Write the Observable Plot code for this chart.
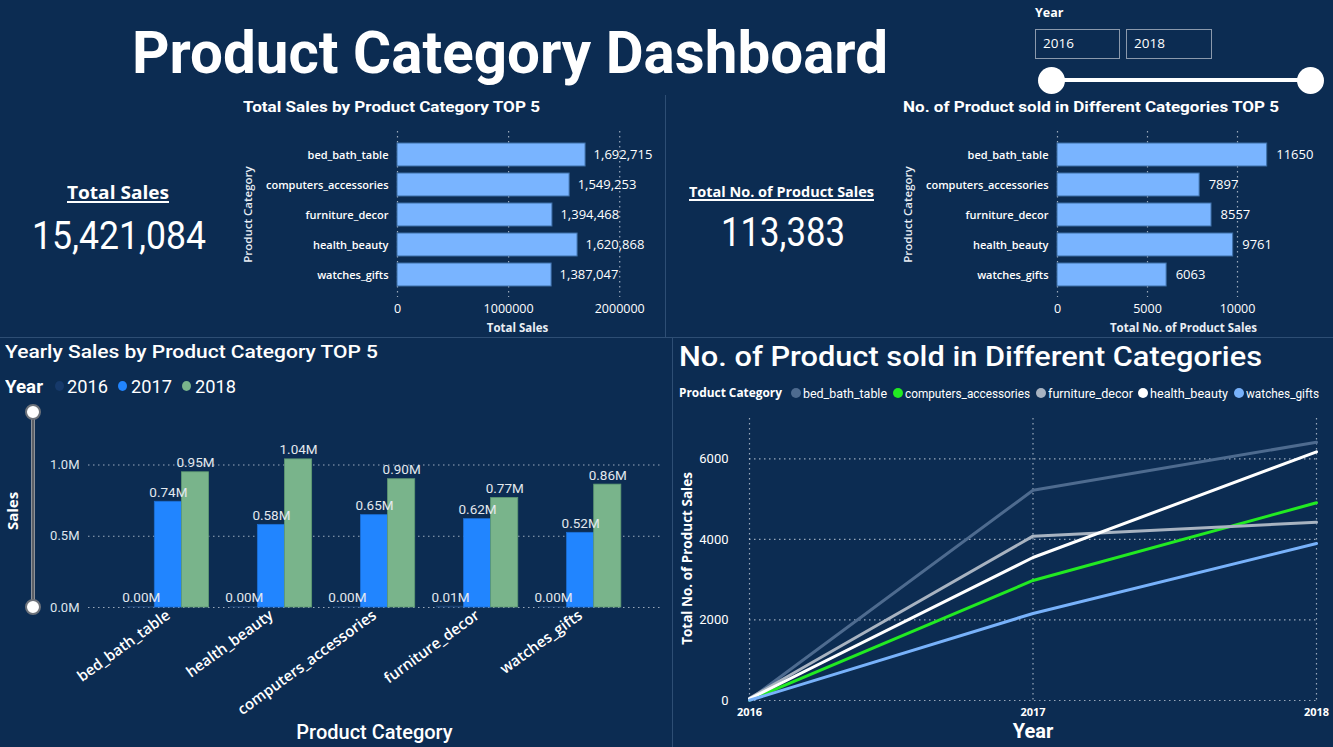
<!DOCTYPE html>
<html><head><meta charset="utf-8">
<script src="https://cdn.jsdelivr.net/npm/d3@7"></script>
<script src="https://cdn.jsdelivr.net/npm/@observablehq/plot@0.6"></script>
<style>
body{margin:0;background:#0c2c52;overflow:hidden}
#dash{position:relative;width:1333px;height:747px;background:#0c2c52;color:#fff;font-family:"Open Sans",sans-serif;overflow:hidden}
.abs{position:absolute;white-space:nowrap}
.chart{position:absolute}
.chart svg{overflow:visible}
</style></head><body><div id="dash"></div>
<script>
// ---------- DATA ----------
const categories = ["bed_bath_table","computers_accessories","furniture_decor","health_beauty","watches_gifts"];
const totalSales = [1692715, 1549253, 1394468, 1620868, 1387047];
const productsSold = [11650, 7897, 8557, 9761, 6063];
const kpiTotalSales = 15421084;
const kpiTotalProducts = 113383;

const years = [2016, 2017, 2018];
const yearlyOrder = ["bed_bath_table","health_beauty","computers_accessories","furniture_decor","watches_gifts"];
const sales2016 = [1800, 1300, 900, 6200, 700];
const sales2017 = [742000, 580000, 648000, 620000, 524000];
const sales2018 = [948915, 1039568, 900353, 768268, 862347];

const sold2016 = [20, 10, 55, 40, 5];
const sold2017 = [5220, 2980, 4080, 3550, 2160];
const sold2018 = [6410, 4907, 4422, 6171, 3898];

const yearColors = ["#16396a", "#2185ff", "#79b48b"];
const lineColors = ["#4e6b8f", "#22ea22", "#a8b3c1", "#ffffff", "#78b2fb"];

// ---------- HELPERS ----------
const dash = document.getElementById("dash");
const K = {Roboto: 0.841, "Open Sans": 0.888};
function label(txt, o) {
  const d = document.createElement("div");
  d.className = "abs";
  d.textContent = txt;
  const fam = o.family || "Open Sans";
  Object.assign(d.style, {left: o.x + "px", top: (o.base - K[fam] * o.size) + "px", fontSize: o.size + "px",
    fontWeight: o.weight || 400, fontFamily: fam, lineHeight: 1, color: o.color || "#fff"});
  if (o.underline) { d.style.textDecoration = "underline"; d.style.textUnderlineOffset = (o.uo || 2) + "px"; d.style.textDecorationThickness = "1.5px"; }
  dash.appendChild(d);
  if (o.w) { const w = d.getBoundingClientRect().width; d.style.transformOrigin = "0 50%"; d.style.transform = `scaleX(${o.w / w})`; }
  return d;
}
function box(x, y, w, h, style) {
  const d = document.createElement("div");
  d.className = "abs";
  Object.assign(d.style, {left: x + "px", top: y + "px", width: w + "px", height: h + "px", boxSizing: "border-box"}, style);
  dash.appendChild(d);
  return d;
}
function place(svg, x, y) {
  const d = document.createElement("div");
  d.className = "chart";
  d.style.left = x + "px"; d.style.top = y + "px";
  d.appendChild(svg);
  dash.appendChild(d);
}
const baseStyle = {background: "transparent", color: "#ffffff", fontFamily: "Open Sans, sans-serif", overflow: "visible"};
const gridStyle = {stroke: "#c9d3df", strokeOpacity: 0.75, strokeDasharray: "1.5,3.5", strokeWidth: 1.2};

// ---------- DIVIDERS ----------
box(0, 337, 1333, 1, {background: "#2e4e74"});
box(665, 95, 1, 242, {background: "#2e4e74"});
box(672, 338, 1, 409, {background: "#2e4e74"});

// ---------- HEADER ----------
label("Product Category Dashboard", {x: 132, base: 73, size: 60, weight: 700, family: "Roboto", w: 756});

// Year slicer
label("Year", {x: 1035, base: 18, size: 12.5, weight: 700});
box(1035, 29, 85, 30, {border: "1.5px solid #8b99ac"});
box(1126, 29, 86, 30, {border: "1.5px solid #8b99ac"});
label("2016", {x: 1043, base: 49, size: 13.5});
label("2018", {x: 1134, base: 49, size: 13.5});
box(1051, 78, 259, 4, {background: "#ffffff"});
box(1038, 67, 27, 27, {background: "#ffffff", borderRadius: "50%"});
box(1297, 67, 27, 27, {background: "#ffffff", borderRadius: "50%"});

// ---------- KPI CARDS ----------
label("Total Sales", {x: 67, base: 199, size: 18, weight: 700, underline: true, w: 102});
label(d3.format(",")(kpiTotalSales), {x: 32, base: 249, size: 38, weight: 400, family: "Roboto", w: 174});
label("Total No. of Product Sales", {x: 689, base: 197, size: 14, weight: 700, underline: true, w: 185});
label(d3.format(",")(kpiTotalProducts), {x: 721, base: 247, size: 40, weight: 400, family: "Roboto", w: 124});

// ---------- CHART 1: Total Sales TOP 5 ----------
label("Total Sales by Product Category TOP 5", {x: 243, base: 113, size: 15, weight: 700, family: "Roboto", w: 297});
const salesRows = categories.map((c, i) => ({category: c, value: totalSales[i]}));
const c1 = Plot.plot({
  width: 440, height: 220, marginLeft: 167, marginRight: 33, marginTop: 11, marginBottom: 43,
  style: {...baseStyle, fontSize: "11px"},
  x: {domain: [0, 2160000]},
  y: {domain: categories, paddingInner: 0.25, paddingOuter: 0.39},
  marks: [
    Plot.gridX({ticks: [0, 1000000, 2000000], ...gridStyle}),
    Plot.barX(salesRows, {x: "value", y: "category", fill: "#79b4ff", stroke: "#3d6ea6", strokeWidth: 1}),
    Plot.text(salesRows, {x: "value", y: "category", text: d => d3.format(",")(d.value), textAnchor: "start", dx: 8, fill: "#ffffff", fontSize: 13}),
    Plot.axisX({ticks: [0, 1000000, 2000000], tickFormat: d => String(d), tickSize: 0, tickPadding: 7, fontSize: 12.5, label: null}),
    Plot.axisY({tickSize: 0, tickPadding: 9, fontSize: 11, fontWeight: 600, label: null}),
    Plot.text(["Total Sales"], {text: d => d, frameAnchor: "bottom", dy: 34, fontSize: 11.5, fontWeight: 700, fill: "#e9eef4"}),
    Plot.text(["Product Category"], {text: d => d, frameAnchor: "left", textAnchor: "middle", rotate: -90, dx: -149, fontSize: 11.5, fontWeight: 600, fill: "#e9eef4"})
  ]
});
place(c1, 230, 120);

// ---------- CHART 2: Products sold TOP 5 ----------
label("No. of Product sold in Different Categories TOP 5", {x: 903, base: 113, size: 15, weight: 700, family: "Roboto", w: 376});
const soldRows = categories.map((c, i) => ({category: c, value: productsSold[i]}));
const c2 = Plot.plot({
  width: 443, height: 220, marginLeft: 167, marginRight: 24, marginTop: 11, marginBottom: 43,
  style: {...baseStyle, fontSize: "11px"},
  x: {domain: [0, 14000]},
  y: {domain: categories, paddingInner: 0.25, paddingOuter: 0.39},
  marks: [
    Plot.gridX({ticks: [0, 5000, 10000], ...gridStyle}),
    Plot.barX(soldRows, {x: "value", y: "category", fill: "#79b4ff", stroke: "#3d6ea6", strokeWidth: 1}),
    Plot.text(soldRows, {x: "value", y: "category", text: d => String(d.value), textAnchor: "start", dx: 9, fill: "#ffffff", fontSize: 13}),
    Plot.axisX({ticks: [0, 5000, 10000], tickFormat: d => String(d), tickSize: 0, tickPadding: 7, fontSize: 12.5, label: null}),
    Plot.axisY({tickSize: 0, tickPadding: 9, fontSize: 11, fontWeight: 600, label: null}),
    Plot.text(["Total No. of Product Sales"], {text: d => d, frameAnchor: "bottom", dy: 34, fontSize: 11.5, fontWeight: 700, fill: "#e9eef4"}),
    Plot.text(["Product Category"], {text: d => d, frameAnchor: "left", textAnchor: "middle", rotate: -90, dx: -149, fontSize: 11.5, fontWeight: 600, fill: "#e9eef4"})
  ]
});
place(c2, 890, 120);

// ---------- CHART 3: Yearly Sales grouped bars ----------
label("Yearly Sales by Product Category TOP 5", {x: 5, base: 358, size: 19, weight: 500, family: "Roboto", w: 373});
// legend
label("Year", {x: 5, base: 393, size: 18, weight: 700, family: "Roboto", w: 38});
const legX = [[55, 67], [118, 131], [182, 195]];
years.forEach((y, i) => {
  box(legX[i][0], 381, 9, 10, {background: yearColors[i], borderRadius: "50%"});
  label(String(y), {x: legX[i][1], base: 393, size: 18, family: "Roboto", w: 41});
});
// slider
box(31, 411, 4, 196, {background: "#5b5f66", border: "1px solid #8d929a"});
box(25, 404, 16, 16, {background: "#ffffff", borderRadius: "50%", border: "2px solid #6e737b"});
box(25, 599, 16, 16, {background: "#ffffff", borderRadius: "50%", border: "2px solid #6e737b"});

const c3W = 670, c3L = 88, c3R = 10, pIn = 0.21, pOut = 0.38;
const step = (c3W - c3L - c3R) / (yearlyOrder.length - pIn + 2 * pOut);
const third = step * (1 - pIn) / 3;
const yearly = [sales2016, sales2017, sales2018];
const strokeCols = ["#1d4475", "#1c6fd6", "#5f9a73"];
const yearMarks = years.map((yr, i) => {
  const rows = yearlyOrder.map((c, j) => ({category: c, year: yr, value: yearly[i][j]}));
  return Plot.barY(rows, {x: "category", y: "value", fill: yearColors[i], stroke: strokeCols[i], strokeWidth: 0.8,
    insetLeft: i * third, insetRight: (2 - i) * third});
});
const labelMarks = years.map((yr, i) => {
  const rows = yearlyOrder.map((c, j) => ({category: c, year: yr, value: yearly[i][j]}));
  return Plot.text(rows, {x: "category", y: "value", text: d => (d.value / 1e6).toFixed(2) + "M", dx: (i - 1) * third, dy: -5,
    lineAnchor: "bottom", fill: "#e3e8ee", fontSize: 13.5, fontFamily: "Roboto"});
});
const c3 = Plot.plot({
  width: c3W, height: 352, marginLeft: c3L, marginRight: c3R, marginTop: 41, marginBottom: 140,
  style: {...baseStyle, fontSize: "13px"},
  x: {domain: yearlyOrder, paddingInner: pIn, paddingOuter: pOut, round: false},
  y: {domain: [0, 1200000]},
  marks: [
    Plot.gridY({ticks: [0, 500000, 1000000], ...gridStyle}),
    ...yearMarks,
    ...labelMarks,
    Plot.axisY({ticks: [0, 500000, 1000000], tickFormat: d => (d / 1e6).toFixed(1) + "M", tickSize: 0, tickPadding: 9, fontSize: 13, fontFamily: "Roboto", fill: "#dfe5ec", label: null}),
    Plot.axisX({tickSize: 0, tickPadding: 6, tickRotate: -36, fontSize: 15, fontWeight: 600, label: null}),
    Plot.text(["Product Category"], {text: d => d, frameAnchor: "bottom", dy: 131, fontSize: 20, fontWeight: 500, fontFamily: "Roboto"}),
    Plot.text(["Sales"], {text: d => d, frameAnchor: "left", textAnchor: "middle", rotate: -90, dx: -75, dy: -11, fontSize: 15, fontWeight: 700})
  ]
});
place(c3, 0, 395);

// ---------- CHART 4: line chart ----------
label("No. of Product sold in Different Categories", {x: 679, base: 367, size: 27, weight: 500, family: "Roboto", w: 583});
label("Product Category", {x: 679, base: 398, size: 12.5, weight: 700, w: 103});
const leg4 = [[791, 803, 84], [893, 905, 125], [1036, 1048, 85], [1138, 1150, 78], [1234, 1246, 73]];
categories.forEach((c, i) => {
  box(leg4[i][0], 388, 10, 10, {background: lineColors[i], borderRadius: "50%"});
  label(c, {x: leg4[i][1], base: 398, size: 13, family: "Roboto", w: leg4[i][2]});
});
const lineRows = categories.flatMap((c, i) => years.map((y, j) => ({category: c, year: y, value: [sold2016, sold2017, sold2018][j][i]})));
const c4 = Plot.plot({
  width: 661, height: 342, marginLeft: 77, marginRight: 17, marginTop: 13, marginBottom: 47,
  style: {...baseStyle, fontSize: "12px"},
  x: {domain: [2016, 2018]},
  y: {domain: [0, 7000]},
  color: {domain: categories, range: lineColors},
  marks: [
    Plot.gridY({ticks: [0, 2000, 4000, 6000], ...gridStyle}),
    Plot.gridX({ticks: years, ...gridStyle}),
    Plot.line(lineRows, {x: "year", y: "value", z: "category", stroke: "category", strokeWidth: 3}),
    Plot.axisX({ticks: years, tickFormat: d => String(d), tickSize: 0, tickPadding: 8, fontSize: 11, fontWeight: 700, label: null}),
    Plot.axisY({ticks: [0, 2000, 4000, 6000], tickFormat: d => String(d), tickSize: 0, tickPadding: 21, fontSize: 13, fontFamily: "Roboto", label: null}),
    Plot.text(["Year"], {text: d => d, frameAnchor: "bottom", dy: 37, fontSize: 20, fontWeight: 700, fontFamily: "Roboto"}),
    Plot.text(["Total No. of Product Sales"], {text: d => d, frameAnchor: "left", textAnchor: "middle", rotate: -90, dx: -62, dy: -1, fontSize: 13.5, fontWeight: 700})
  ]
});
place(c4, 672, 405);
</script>
</body></html>
